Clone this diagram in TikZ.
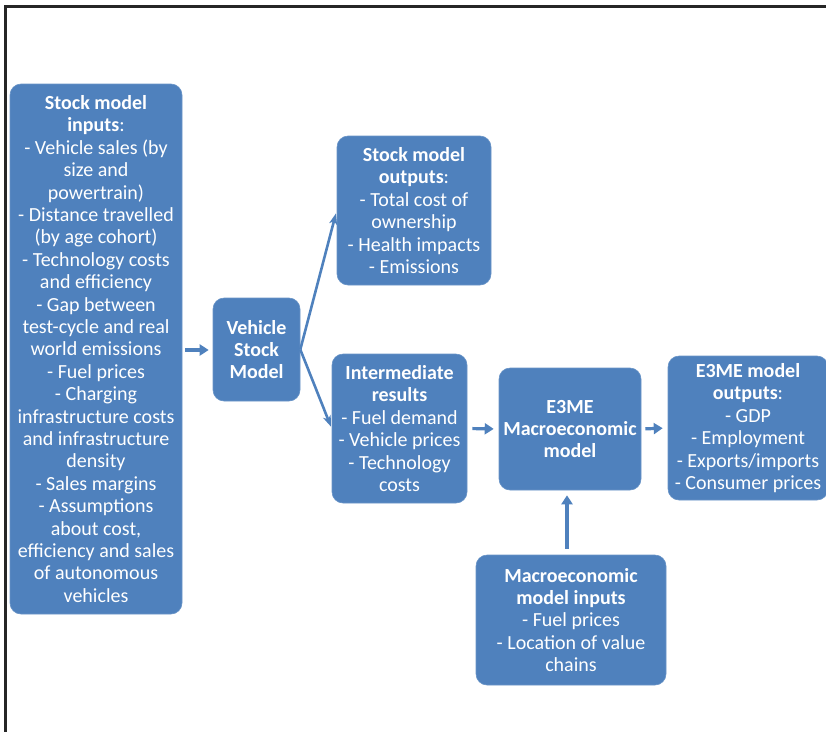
\documentclass[tikz,border=0pt]{standalone}
\usepackage{fontspec}
\setmainfont{Carlito}
\usetikzlibrary{arrows.meta}
\definecolor{boxblue}{HTML}{4F81BD}
\tikzset{
  box/.style={fill=boxblue, draw=boxblue!85!white, line width=0.6pt, rounded corners=11pt, text=white, align=center,
    font=\fontsize{20pt}{22.4pt}\selectfont, inner sep=0pt},
  conn/.style={draw=boxblue, line width=3.2pt, -{Triangle[length=9pt,width=11pt]}},
  branch/.style={draw=boxblue, line width=2.6pt, -{Stealth[length=11pt,width=8pt,inset=3pt]}}
}
\begin{document}
\begin{tikzpicture}[x=1pt,y=1pt]
\clip (0,0) rectangle (826,-731);
\useasboundingbox (0,0) rectangle (826,-731);
\draw[line width=2.2pt, black!85] (5.5,-735) -- (5.5,-6.5) -- (830,-6.5);

\node[box, minimum width=172pt, minimum height=530pt] (in) at (96,-349)
{\textbf{Stock model}\\\textbf{inputs}:\\- Vehicle sales (by\\size and\\powertrain)\\- Distance travelled\\(by age cohort)\\- Technology costs\\and efficiency\\- Gap between\\test-cycle and real\\world emissions\\- Fuel prices\\- Charging\\infrastructure costs\\and infrastructure\\density\\- Sales margins\\- Assumptions\\about cost,\\efficiency and sales\\of autonomous\\vehicles};

\node[box, minimum width=87pt, minimum height=103pt] (vsm) at (256.5,-349.5)
{\textbf{Vehicle}\\\textbf{Stock}\\\textbf{Model}};

\node[box, minimum width=154pt, minimum height=149pt] (so) at (414,-210.5)
{\textbf{Stock model}\\\textbf{outputs}:\\- Total cost of\\ownership\\- Health impacts\\- Emissions};

\node[box, minimum width=135pt, minimum height=149pt] (ir) at (399.5,-428.5)
{\textbf{Intermediate}\\\textbf{results}\\- Fuel demand\\- Vehicle prices\\- Technology\\costs};

\node[box, minimum width=142pt, minimum height=122pt] (e3) at (570,-429)
{\textbf{E3ME}\\\textbf{Macroeconomic}\\\textbf{model}};

\node[box, minimum width=160pt, minimum height=144pt] (eo) at (748,-428)
{\textbf{E3ME model}\\\textbf{outputs}:\\- GDP\\- Employment\\- Exports/imports\\- Consumer prices};

\node[box, minimum width=190pt, minimum height=130pt] (mi) at (571,-620)
{\textbf{Macroeconomic}\\\textbf{model inputs}\\- Fuel prices\\- Location of value\\chains};

\draw[conn, shorten <=3pt, shorten >=4pt] (in.east |- 0,-350) -- (vsm.west |- 0,-350);
\draw[branch, shorten >=3pt] (vsm.east) -- (so.west);
\draw[branch, shorten >=2pt] (vsm.east) -- (ir.west);
\draw[conn, shorten <=5pt, shorten >=5pt] (ir.east) -- (e3.west);
\draw[conn, shorten <=4pt, shorten >=5pt] (e3.east) -- (eo.west);
\draw[conn, shorten <=6pt, shorten >=5pt] (mi.north -| 567,0) -- (e3.south -| 567,0);
\end{tikzpicture}
\end{document}
